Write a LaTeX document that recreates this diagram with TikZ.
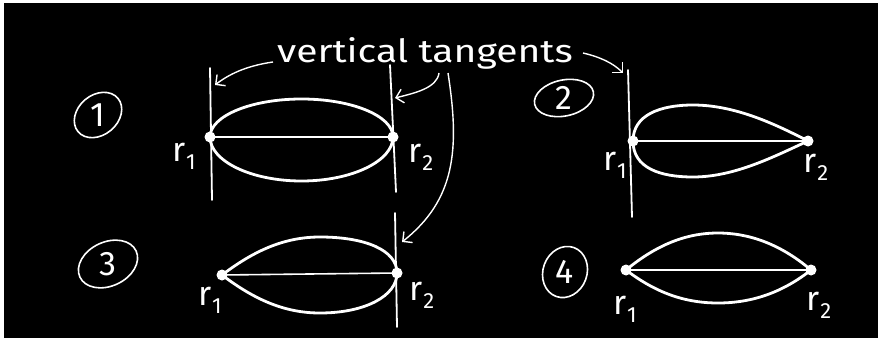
\documentclass[tikz,border=0pt]{standalone}
\usepackage{fontspec}
\setmainfont{Fira Sans}
\usetikzlibrary{arrows.meta}
\newcommand\rlabel[1]{r\kern0.5pt\raisebox{-8pt}{\fontsize{22}{22}\selectfont #1}}
\begin{document}
\begin{tikzpicture}[x=1pt,y=-1pt,
  dot/.style={circle,fill=white,inner sep=0pt,minimum size=11pt},
  curve/.style={white,line width=2.8pt},
  chord/.style={white,line width=1.6pt},
  tangent/.style={white,line width=1.8pt,line cap=round},
  pointer/.style={white,line width=1.4pt,-{Straight Barb[length=7pt,width=14pt,line width=1.4pt]}},
  lab/.style={text=white,font=\fontsize{34}{34}\selectfont,inner sep=0pt},
  title/.style={text=white,font=\fontsize{32}{32}\selectfont,inner sep=0pt},
  num/.style={text=white,font=\fontsize{34}{34}\selectfont,inner sep=0pt},
  ring/.style={white,line width=1.6pt}]
\useasboundingbox (0,0) rectangle (882,345);
\fill[white] (0,0) rectangle (882,345);
\fill[black] (4,3) rectangle (878,338);

% title
\node[title,anchor=base west] (heading) at (277,63) {\scalebox{1.22}[1]{vertical tangents}};

% numbers
\node[num] (n1) at (98,115) {1};
\draw[ring,rotate around={40:(n1)}] (n1) ellipse [x radius=26, y radius=20];
\node[num] (n2) at (564,98) {2};
\draw[ring,rotate around={12:(n2)}] (n2) ellipse [x radius=30, y radius=18];
\node[num] (n3) at (108,264) {3};
\draw[ring,rotate around={25:(n3)}] (n3) ellipse [x radius=31, y radius=22];
\node[num] (n4) at (565,272) {4};
\draw[ring,rotate around={-20:(n4)}] (n4) ellipse [x radius=22, y radius=26];

% ---------- panel 1
\coordinate (t1a) at (210,68); \coordinate (t1b) at (212,200);
\coordinate (t1c) at (390,65); \coordinate (t1d) at (396,192);
\draw[tangent] (t1a) -- (t1b);
\draw[tangent] (t1c) -- (t1d);
\node[dot] (p1a) at (210,137) {};
\node[dot] (p1b) at (393,137) {};
\draw[chord] (p1a.center) -- (p1b.center);
\draw[curve] (p1a.center) .. controls (210,116) and (251,99) .. (301.5,99)
  .. controls (352,99) and (393,116) .. (p1b.center);
\draw[curve] (p1a.center) .. controls (210,161) and (251,181) .. (301.5,181)
  .. controls (352,181) and (393,161) .. (p1b.center);
\node[lab] (l1a) at (184,156) {\rlabel{1}};
\node[lab] (l1b) at (421,157) {\rlabel{2}};

% ---------- panel 2
\coordinate (t2a) at (628,70); \coordinate (t2b) at (632,217);
\draw[tangent] (t2a) -- (t2b);
\node[dot] (p2a) at (633,141) {};
\node[dot] (p2b) at (808,141) {};
\draw[chord] (p2a.center) -- (p2b.center);
\draw[curve] (p2a.center) .. controls (633,115) and (660,105) .. (693,105)
  .. controls (735,105) and (775,124) .. (p2b.center);
\draw[curve] (p2a.center) .. controls (633,168) and (660,177) .. (693,177)
  .. controls (735,177) and (775,156) .. (p2b.center);
\node[lab] (l2a) at (615,165) {\rlabel{1}};
\node[lab] (l2b) at (816,167) {\rlabel{2}};

% ---------- panel 3
\coordinate (t3a) at (395,213); \coordinate (t3b) at (397,327);
\draw[tangent] (t3a) -- (t3b);
\node[dot] (p3a) at (222,275) {};
\node[dot] (p3b) at (397,273) {};
\draw[chord] (p3a.center) -- (p3b.center);
\draw[curve] (p3a.center) .. controls (255,250) and (285,237) .. (320,237)
  .. controls (365,237) and (397,250) .. (p3b.center);
\draw[curve] (p3a.center) .. controls (255,300) and (285,313) .. (320,313)
  .. controls (365,313) and (397,296) .. (p3b.center);
\node[lab] (l3a) at (210,300) {\rlabel{1}};
\node[lab] (l3b) at (422,295) {\rlabel{2}};

% ---------- panel 4
\node[dot] (p4a) at (626,270) {};
\node[dot] (p4b) at (811,270) {};
\draw[chord] (p4a.center) -- (p4b.center);
\draw[curve] (p4a.center) .. controls (660,242) and (690,233) .. (718,233)
  .. controls (746,233) and (778,242) .. (p4b.center);
\draw[curve] (p4a.center) .. controls (660,296) and (690,303) .. (718,303)
  .. controls (746,303) and (778,296) .. (p4b.center);
\node[lab] (l4a) at (625,309) {\rlabel{1}};
\node[lab] (l4b) at (819,305) {\rlabel{2}};

% ---------- pointers
\coordinate (a1s) at (273,62); \coordinate (a1e) at (215,85);
\draw[pointer] (a1s) .. controls (245,66) and (228,75) .. (a1e);
\coordinate (a2s) at (439,73); \coordinate (a2e) at (395,98);
\draw[pointer] (a2s) .. controls (437,88) and (415,93) .. (a2e);
\coordinate (a3s) at (583,53); \coordinate (a3e) at (623,73);
\draw[pointer] (a3s) .. controls (600,57) and (613,63) .. (a3e);
\coordinate (a4s) at (448,73); \coordinate (a4e) at (402,242);
\draw[pointer] (a4s) .. controls (460,150) and (455,200) .. (a4e);
\end{tikzpicture}
\end{document}
